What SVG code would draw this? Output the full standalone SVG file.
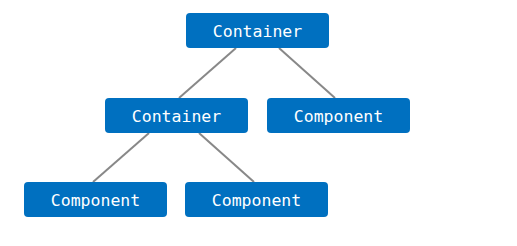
<svg xmlns="http://www.w3.org/2000/svg" width="517" height="246" viewBox="0 0 517 246">
<style>
.box{fill:#0070C0}
.lbl{font-family:"DejaVu Sans Mono",monospace;font-size:16.5px;fill:#ffffff;text-anchor:middle;dominant-baseline:central}
.edge{stroke:#888888;stroke-width:2;fill:none}
</style>
<rect width="517" height="246" fill="#ffffff"/>
<g id="connectors">
<line class="edge" x1="236" y1="48" x2="179" y2="98"/>
<line class="edge" x1="279" y1="48" x2="335" y2="98"/>
<line class="edge" x1="149" y1="133" x2="93" y2="182"/>
<line class="edge" x1="199" y1="133" x2="254" y2="182"/>
</g>
<g id="root">
<rect class="box" x="186" y="13" width="143" height="35" rx="4"/>
<text class="lbl" x="257.5" y="31">Container</text>
</g>
<g id="container2">
<rect class="box" x="105" y="98" width="143" height="35" rx="4"/>
<text class="lbl" x="176.5" y="116">Container</text>
</g>
<g id="component1">
<rect class="box" x="267" y="98" width="143" height="35" rx="4"/>
<text class="lbl" x="338.5" y="116">Component</text>
</g>
<g id="component2">
<rect class="box" x="24" y="182" width="143" height="35" rx="4"/>
<text class="lbl" x="95.5" y="200">Component</text>
</g>
<g id="component3">
<rect class="box" x="185" y="182" width="143" height="35" rx="4"/>
<text class="lbl" x="256.5" y="200">Component</text>
</g>
</svg>
